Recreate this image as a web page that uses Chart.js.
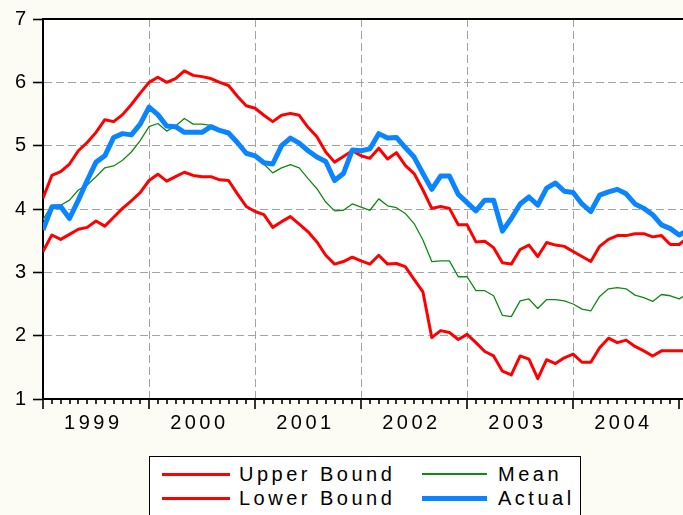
<!DOCTYPE html>
<html>
<head>
<meta charset="utf-8">
<script src="https://cdn.jsdelivr.net/npm/chart.js@4.4.0/dist/chart.umd.min.js"></script>
<style>
  html, body { margin: 0; padding: 0; background: #fcfcf5; overflow: hidden; }
  #wrap { position: relative; width: 700px; height: 515px; }
  #legend {
    position: absolute; left: 149px; top: 456px; width: 430px; height: 70px;
    border: 1px solid #000; background: #fff;
    font-family: "Liberation Sans", Arial, sans-serif; font-size: 20px; letter-spacing: 3.5px; color: #000;
  }
  .item { position: absolute; height: 24px; line-height: 24px; white-space: nowrap; }
  .item span.swatch { position: absolute; top: 50%; }
  .item span.label { position: absolute; top: 0; }
</style>
</head>
<body>
<div id="wrap">
  <canvas id="chart" width="700" height="515"></canvas>
  <div id="legend"></div>
</div>
<script>
// monthly values, Jan 1999 .. Feb 2005
const years = ["1999", "2000", "2001", "2002", "2003", "2004"];
const yTicks = [1, 2, 3, 4, 5, 6, 7];

const upper = [4.17, 4.53, 4.59, 4.71, 4.92, 5.05, 5.21, 5.41, 5.38, 5.49, 5.65, 5.83,
  6.00, 6.08, 6.00, 6.06, 6.18, 6.11, 6.09, 6.06, 6.00, 5.95, 5.78, 5.63,
  5.59, 5.48, 5.38, 5.48, 5.51, 5.48, 5.29, 5.14, 4.90, 4.74, 4.83, 4.92,
  4.84, 4.80, 4.96, 4.79, 4.89, 4.69, 4.56, 4.30, 4.01, 4.04, 4.01, 3.75,
  3.75, 3.48, 3.49, 3.39, 3.15, 3.13, 3.36, 3.43, 3.25, 3.47, 3.43, 3.41,
  3.33, 3.25, 3.17, 3.41, 3.52, 3.58, 3.58, 3.61, 3.61, 3.56, 3.58, 3.44,
  3.44, 3.55];

const lower = [3.33, 3.59, 3.52, 3.60, 3.68, 3.71, 3.81, 3.73, 3.87, 4.01, 4.13, 4.26,
  4.45, 4.55, 4.44, 4.51, 4.58, 4.53, 4.51, 4.51, 4.46, 4.45, 4.24, 4.04,
  3.96, 3.91, 3.71, 3.80, 3.88, 3.76, 3.64, 3.48, 3.27, 3.13, 3.17, 3.24,
  3.18, 3.13, 3.27, 3.13, 3.14, 3.09, 2.89, 2.69, 1.97, 2.08, 2.05, 1.94,
  2.02, 1.89, 1.75, 1.68, 1.44, 1.38, 1.68, 1.63, 1.32, 1.62, 1.56, 1.65,
  1.71, 1.58, 1.58, 1.81, 1.96, 1.89, 1.93, 1.83, 1.76, 1.68, 1.76, 1.76,
  1.76, 1.76];

const mean = [3.83, 4.06, 4.06, 4.14, 4.30, 4.38, 4.51, 4.65, 4.68, 4.77, 4.90, 5.08,
  5.30, 5.35, 5.23, 5.31, 5.43, 5.34, 5.34, 5.32, 5.25, 5.18, 5.02, 4.88,
  4.84, 4.71, 4.57, 4.65, 4.70, 4.65, 4.48, 4.32, 4.11, 3.97, 3.98, 4.08,
  4.03, 3.98, 4.16, 4.05, 4.02, 3.93, 3.77, 3.51, 3.17, 3.18, 3.18, 2.93,
  2.93, 2.71, 2.71, 2.63, 2.32, 2.30, 2.55, 2.58, 2.43, 2.57, 2.57, 2.55,
  2.50, 2.42, 2.39, 2.62, 2.74, 2.76, 2.74, 2.64, 2.60, 2.54, 2.65, 2.63,
  2.58, 2.66];

const actual = [3.67, 4.03, 4.04, 3.85, 4.14, 4.45, 4.74, 4.84, 5.13, 5.19, 5.17, 5.34,
  5.61, 5.49, 5.31, 5.30, 5.21, 5.21, 5.21, 5.30, 5.24, 5.20, 5.05, 4.88,
  4.84, 4.73, 4.71, 5.00, 5.12, 5.04, 4.92, 4.82, 4.75, 4.45, 4.56, 4.93,
  4.92, 4.95, 5.19, 5.12, 5.13, 4.97, 4.82, 4.56, 4.31, 4.52, 4.52, 4.23,
  4.10, 3.97, 4.14, 4.14, 3.65, 3.85, 4.08, 4.19, 4.06, 4.33, 4.41, 4.28,
  4.26, 4.08, 3.96, 4.22, 4.27, 4.31, 4.24, 4.08, 4.01, 3.91, 3.75, 3.69,
  3.59, 3.66];

const toPoints = (arr) => arr.map((v, i) => ({ x: i, y: v }));
const FONT = '"Liberation Sans", Arial, sans-serif';

const series = [
  { label: "Upper Bound", data: upper, color: "#ff0000", width: 3, order: 1 },
  { label: "Lower Bound", data: lower, color: "#ff0000", width: 3, order: 2 },
  { label: "Mean", data: mean, color: "#118a11", width: 1.3, order: 3 },
  { label: "Actual", data: actual, color: "#0a84ff", width: 5, order: 0 },
];

// white plot area + top frame, month ticks and year labels
const framePlugin = {
  id: "frame",
  beforeDraw(chart) {
    const { ctx, chartArea } = chart;
    ctx.save();
    ctx.fillStyle = "#ffffff";
    ctx.fillRect(chartArea.left, chartArea.top, chart.width - chartArea.left, chartArea.bottom - chartArea.top);
    ctx.restore();
  },
  afterDraw(chart) {
    const { ctx, chartArea } = chart;
    const xs = chart.scales.x;
    ctx.save();
    ctx.strokeStyle = "#000";
    ctx.lineWidth = 2;
    ctx.beginPath();
    ctx.moveTo(chartArea.left - 1, chartArea.top);
    ctx.lineTo(chart.width, chartArea.top);
    ctx.stroke();

    ctx.lineWidth = 1.6;
    for (let i = 0; i < upper.length; i++) {
      const px = Math.round(xs.getPixelForValue(i));
      const len = i % 12 === 0 ? 10 : 5;
      ctx.beginPath();
      ctx.moveTo(px, chartArea.bottom);
      ctx.lineTo(px, chartArea.bottom + len);
      ctx.stroke();
    }

    ctx.fillStyle = "#000";
    ctx.font = "20px " + FONT;
    ctx.letterSpacing = "3.5px";
    ctx.textAlign = "center";
    ctx.textBaseline = "middle";
    years.forEach((y, k) => {
      const px = xs.getPixelForValue(k * 12 + 5.5);
      ctx.fillText(y, px + 1.75, chartArea.bottom + 24);
    });
    ctx.restore();
  },
};

new Chart(document.getElementById("chart"), {
  type: "line",
  data: {
    datasets: series.map((s) => ({
      label: s.label,
      data: toPoints(s.data),
      borderColor: s.color,
      borderWidth: s.width,
      pointRadius: 0,
      tension: 0,
      fill: false,
      order: s.order,
      borderJoinStyle: "round",
    })),
  },
  options: {
    responsive: false,
    animation: false,
    devicePixelRatio: 1,
    layout: { padding: { top: 17, right: 12, bottom: 0, left: 0 } },
    plugins: { legend: { display: false }, tooltip: { enabled: false } },
    scales: {
      x: {
        type: "linear",
        min: 0,
        max: upper.length - 1,
        afterBuildTicks(scale) {
          scale.ticks = years.map((y, k) => ({ value: k * 12 }));
        },
        afterFit(scale) { scale.height = 116; },
        ticks: { display: false },
        grid: {
          drawTicks: false,
          color: (c) => (c.tick && c.tick.value === 0 ? "rgba(0,0,0,0)" : "#a3a3a3"),
          lineWidth: 1,
        },
        border: { display: true, color: "#000", width: 2, dash: [8, 4] },
      },
      y: {
        min: 1,
        max: 7,
        afterBuildTicks(scale) {
          scale.ticks = yTicks.map((v) => ({ value: v }));
        },
        afterFit(scale) { scale.width = 43; },
        ticks: {
          color: "#000",
          font: { family: FONT, size: 20 },
          padding: 7,
        },
        grid: {
          color: "#a3a3a3",
          lineWidth: 1,
          tickLength: 10,
          tickColor: "#000",
          tickWidth: 1.6,
          tickBorderDash: [],
        },
        border: { display: true, color: "#000", width: 2, dash: [8, 4] },
      },
    },
  },
  plugins: [framePlugin],
});

// legend, two columns as in the original
const legend = document.getElementById("legend");
const slots = [
  { s: series[0], x: 12, y: 5, w: 68, tx: 89 },
  { s: series[1], x: 12, y: 29, w: 68, tx: 89 },
  { s: series[2], x: 272, y: 5, w: 65, tx: 348 },
  { s: series[3], x: 272, y: 29, w: 65, tx: 348 },
];
slots.forEach((p) => {
  const item = document.createElement("div");
  item.className = "item";
  item.style.left = "0px";
  item.style.top = p.y + "px";
  item.style.width = "430px";
  item.innerHTML = `
    <span class="swatch" style="left:${p.x}px;width:${p.w}px;height:${p.s.width}px;margin-top:${-p.s.width / 2}px;background:${p.s.color}"></span>
    <span class="label" style="left:${p.tx}px">${p.s.label}</span>
  `;
  legend.appendChild(item);
});
</script>
</body>
</html>
